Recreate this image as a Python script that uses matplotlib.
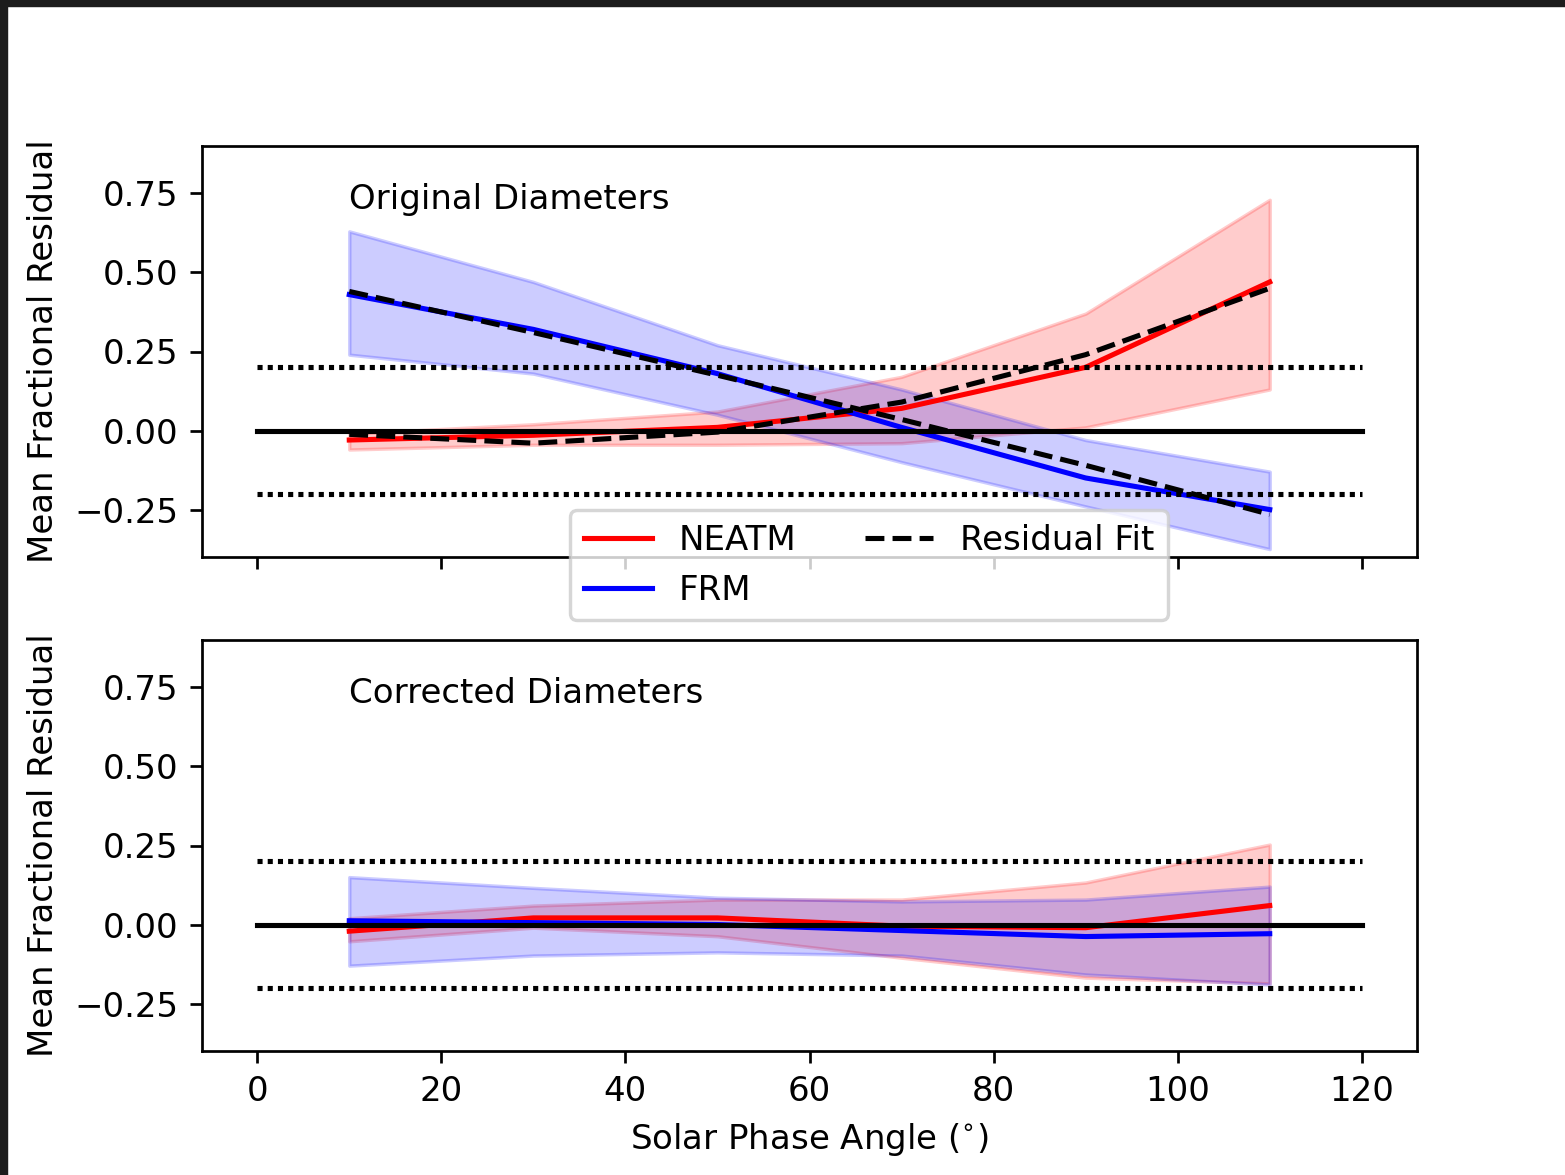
import matplotlib
matplotlib.use('Agg')
import matplotlib.pyplot as plt
from matplotlib.patches import Rectangle
import numpy as np

# phase angle bins
angle = [10, 30, 50, 70, 90, 110]

# original diameters
neatm_orig = [-0.03, -0.015, 0.01, 0.07, 0.20, 0.47]
neatm_orig_lo = [-0.06, -0.045, -0.045, -0.04, 0.01, 0.13]
neatm_orig_hi = [-0.01, 0.02, 0.06, 0.17, 0.37, 0.73]
frm_orig = [0.43, 0.32, 0.18, 0.01, -0.15, -0.25]
frm_orig_lo = [0.24, 0.18, 0.05, -0.10, -0.24, -0.375]
frm_orig_hi = [0.63, 0.47, 0.27, 0.13, -0.03, -0.13]
fit_neatm = [-0.012, -0.04, -0.005, 0.09, 0.24, 0.45]
fit_frm = [0.44, 0.31, 0.175, 0.035, -0.11, -0.265]

# corrected diameters
neatm_corr = [-0.021, 0.021, 0.021, -0.005, -0.01, 0.06]
neatm_corr_lo = [-0.053, -0.01, -0.037, -0.105, -0.168, -0.186]
neatm_corr_hi = [0.02, 0.06, 0.079, 0.079, 0.133, 0.253]
frm_corr = [0.012, 0.006, 0.0, -0.019, -0.038, -0.029]
frm_corr_lo = [-0.13, -0.098, -0.088, -0.098, -0.158, -0.19]
frm_corr_hi = [0.15, 0.116, 0.085, 0.073, 0.079, 0.12]

W, H = 1565, 1175
dpi = 245
fig = plt.figure(figsize=(W / dpi, H / dpi), dpi=dpi)
ax1 = fig.add_axes([202 / W, 1 - 557 / H, 1215 / W, 411 / H])
ax2 = fig.add_axes([202 / W, 1 - 1051 / H, 1215 / W, 411 / H], sharex=ax1)

dots = (0, (1, 1))


def panel(ax, ne, ne_lo, ne_hi, fr, fr_lo, fr_hi, title):
    ax.fill_between(angle, ne_lo, ne_hi, color='r', alpha=0.2)
    ax.fill_between(angle, fr_lo, fr_hi, color='b', alpha=0.2)
    l1, = ax.plot(angle, ne, 'r', lw=1.5, label='NEATM')
    l2, = ax.plot(angle, fr, 'b', lw=1.5, label='FRM')
    ax.plot([0, 120], [0, 0], 'k', lw=1.5)
    ax.plot([0, 120], [0.2, 0.2], color='k', ls=dots, lw=1.5)
    ax.plot([0, 120], [-0.2, -0.2], color='k', ls=dots, lw=1.5)
    ax.text(10, 0.7, title, fontsize=10)
    ax.set_ylim(-0.4, 0.9)
    ax.set_yticks([-0.25, 0.0, 0.25, 0.5, 0.75])
    ax.set_ylabel('Mean Fractional Residual')
    return l1, l2


l1, l2 = panel(ax1, neatm_orig, neatm_orig_lo, neatm_orig_hi,
               frm_orig, frm_orig_lo, frm_orig_hi, 'Original Diameters')
l3, = ax1.plot(angle, fit_neatm, 'k--', lw=1.5, label='Residual Fit')
ax1.plot(angle, fit_frm, 'k--', lw=1.5)

panel(ax2, neatm_corr, neatm_corr_lo, neatm_corr_hi,
      frm_corr, frm_corr_lo, frm_corr_hi, 'Corrected Diameters')

ax1.set_xlim(-6, 126)
ax1.set_xticks([0, 20, 40, 60, 80, 100, 120])
ax1.tick_params(labelbottom=False)
ax2.set_xlabel(r'Solar Phase Angle ($^{\circ}$)')

leg = ax1.legend(handles=[l1, l2, l3], ncol=2, loc='upper left',
                 bbox_to_anchor=((570 - 202) / 1215, (557 - 510) / 411),
                 borderaxespad=0)

# dark screenshot border
fig.patches.append(Rectangle((0, 1 - 5 / H), 1, 5 / H, transform=fig.transFigure,
                             color='#1c1c1c', zorder=10))
fig.patches.append(Rectangle((0, 0), 6 / W, 1, transform=fig.transFigure,
                             color='#1c1c1c', zorder=10))

fig.savefig('out.png', dpi=dpi)
